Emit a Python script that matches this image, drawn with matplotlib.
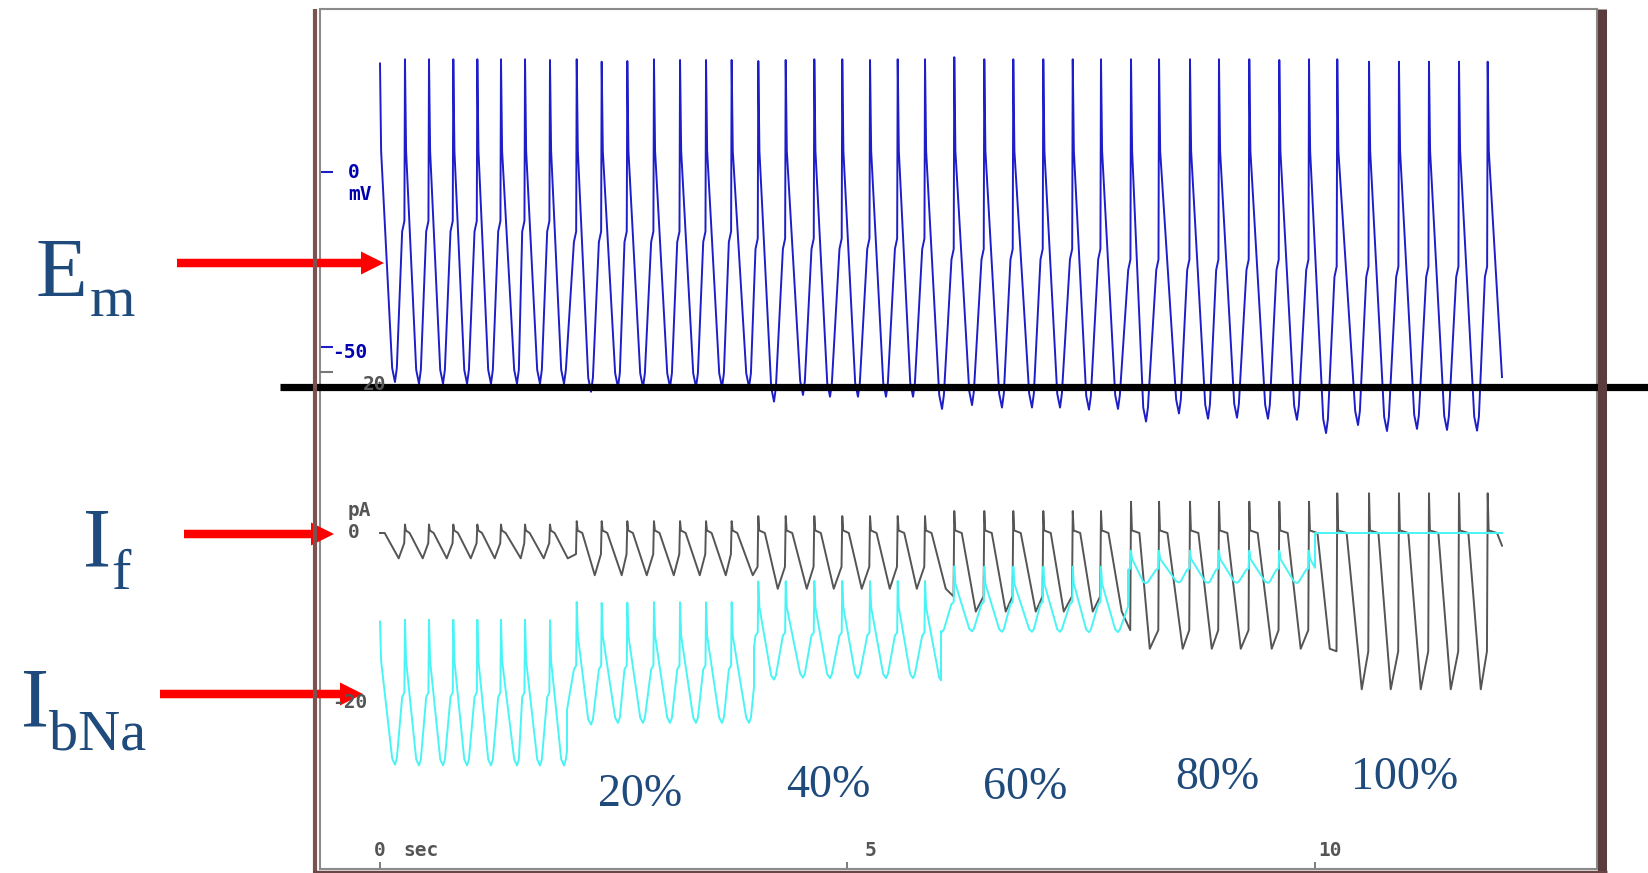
import numpy as np
import matplotlib.pyplot as plt
from matplotlib.patches import FancyArrow
from matplotlib.lines import Line2D

W, H = 1649, 873

# peak (upstroke) time of every beat, s
beat_t = [0.0, 0.267, 0.524, 0.784, 1.041, 1.294, 1.551, 1.818,
          2.104, 2.371, 2.645, 2.930, 3.209, 3.487, 3.761,
          4.046, 4.339, 4.645, 4.944, 5.241, 5.537, 5.829,
          6.142, 6.463, 6.773, 7.094, 7.409, 7.711,
          8.032, 8.332, 8.663, 8.973, 9.297, 9.618, 9.936,
          10.238, 10.578, 10.898, 11.219, 11.540, 11.847]
em_peak = [31.0, 32.2, 32.2, 32.2, 32.2, 32.2, 32.2, 32.0, 32.2, 31.5, 31.7,
           32.2, 32.0, 32.0, 32.0, 31.7, 32.0, 32.2, 32.2, 32.0, 32.2, 32.2,
           32.8, 32.2, 32.2, 32.2, 32.2, 32.2, 32.2, 32.2, 32.2, 32.2, 32.2,
           32.0, 32.2, 32.2, 31.5, 31.5, 31.5, 31.5, 31.5]
# minimum after each beat
em_trough_t = [0.160, 0.417, 0.674, 0.931, 1.187, 1.465, 1.711, 1.968,
               2.257, 2.545, 2.813, 3.102, 3.380, 3.658, 3.947,
               4.214, 4.524, 4.813, 5.112, 5.412, 5.701, 6.011,
               6.332, 6.652, 6.973, 7.273, 7.583, 7.893,
               8.193, 8.545, 8.856, 9.166, 9.497, 9.807, 10.118,
               10.460, 10.770, 11.091, 11.412, 11.733]
em_trough = [-60.0, -60.5, -60.5, -60.5, -60.5, -60.5, -60.5, -60.5,
             -62.8, -61.5, -61.5, -61.5, -61.5, -61.5, -61.5,
             -65.6, -63.7, -64.2, -64.2, -64.2, -64.2, -67.7,
             -66.6, -67.3, -67.3, -67.3, -67.9, -67.7,
             -71.3, -69.0, -70.5, -70.2, -70.5, -70.8, -74.6,
             -72.3, -74.0, -73.4, -73.7, -73.9]
t_end, em_end = 12.0, -58.6

# IbNa block steps every 2 s
seg_edges = [0, 2, 4, 6, 8, 10, 12]
em_foot = [-17, -20, -22, -25, -28, -30]
ibna_hi = [-10.3, -8.2, -5.7, -4.0, -2.1, 0.0]
ibna_lo = [-27.5, -22.5, -17.2, -11.7, -5.9, 0.0]
if_spike = [1.0, 1.4, 2.0, 2.6, 3.7, 4.7]
if_min = [-3.0, -5.0, -6.6, -9.3, -13.7, -18.5]
if_pre = [-1.2, -2.5, -4.0, -7.5, -11.5, -14.0]
if_plateau = [0.05, 0.06, 0.07, 0.08, 0.09, 0.10]
block_labels = ['20%', '40%', '60%', '80%', '100%']


def seg_of(t):
    return min(int(np.searchsorted(seg_edges, t, side='right')) - 1, 5)


# membrane potential keypoints
em_t, em_v = [], []
for i, t in enumerate(beat_t):
    s = seg_of(t)
    if i > 0:
        em_t += [t - 0.03, t - 0.006]
        em_v += [em_foot[s], em_foot[s] + 3]
    em_t += [t, t + 0.012]
    em_v += [em_peak[i], 6.0]
    if i < len(em_trough):
        tt = em_trough_t[i]
        em_t += [tt - 0.03, tt, tt + 0.02]
        em_v += [em_trough[i] + 4, em_trough[i], em_trough[i] + 4]
em_t.append(t_end)
em_v.append(em_end)
em_t = np.array(em_t)
em_v = np.array(em_v)

# IbNa follows Em, scaled per block step
ib_t, ib_v = [], []
for s in range(6):
    a, b = seg_edges[s], seg_edges[s + 1]
    m = (em_t > a) & (em_t < b)
    tt = np.concatenate([[a], em_t[m], [b]])
    vv = np.concatenate([[np.interp(a, em_t, em_v)], em_v[m], [np.interp(b, em_t, em_v)]])
    troughs = [v for tt_, v in zip(em_trough_t, em_trough) if a <= tt_ < b]
    lo_ref = np.mean(troughs)
    frac = (32.0 - vv) / (32.0 - lo_ref)
    ib_t += list(tt)
    ib_v += list(ibna_hi[s] + frac * (ibna_lo[s] - ibna_hi[s]))

# If keypoints
if_t, if_v = [0.0], [0.0]
for i, t in enumerate(beat_t):
    s = seg_of(t)
    if i > 0:
        if_t += [t - 0.008, t, t + 0.01]
        if_v += [if_pre[s], if_spike[s], 0.3]
    if_t.append(t + if_plateau[s])
    if_v.append(0.0)
    if i < len(em_trough_t):
        if_t.append(em_trough_t[i] + 0.04)
        if_v.append(if_min[s])
if_t.append(t_end)
if_v.append(-1.5)

fig = plt.figure(figsize=(W / 100, H / 100), dpi=100)
fig.patch.set_facecolor('white')

# frame in pixels: x 320..1597, y 9..869 ; 0 s at x=380, 93.5 px/s
fl, fr, ft, fb = 320, 1597, 9, 869
rect = [fl / W, 1 - fb / H, (fr - fl) / W, (fb - ft) / H]
xl = ((fl - 380) / 93.5, (fr - 380) / 93.5)

ax_em = fig.add_axes(rect)
ax_em.set_xlim(*xl)
ax_em.set_ylim((172 - fb) / 3.5, (172 - ft) / 3.5)
ax_em.plot(em_t, em_v, color='#1e1ec8', lw=1.4)
for sp in ax_em.spines.values():
    sp.set_color('#8a8a8a')
    sp.set_linewidth(1.5)
ax_em.set_xticks([0, 5, 10])
ax_em.set_yticks([0, -50])
ax_em.tick_params(axis='x', direction='in', length=5, width=1.2, color='#666666',
                  labelbottom=False)
ax_em.tick_params(axis='y', direction='in', length=9.5, width=1.5, color='#1e1ec8',
                  labelleft=False)

ax_i = fig.add_axes(rect)
ax_i.patch.set_visible(False)
ax_i.set_xlim(*xl)
ax_i.set_ylim((533 - fb) / 8.45, (533 - ft) / 8.45)
ax_i.plot(if_t, if_v, color='#555555', lw=1.4)
ax_i.plot(ib_t, ib_v, color='#4af4f4', lw=1.4)
for sp in ax_i.spines.values():
    sp.set_visible(False)
ax_i.set_xticks([])
ax_i.set_yticks([19])
ax_i.tick_params(axis='y', direction='in', length=9.5, width=1.5, color='#777777',
                 labelleft=False)

# bottom axis labels
mono = dict(family='DejaVu Sans Mono', fontweight='bold', fontsize=14)
for val, lab, dx, ha in [(0, '0', 0, 'center'), (5, '5', 17, 'left'), (10, '10', 3, 'left')]:
    ax_em.annotate(lab, xy=(val, 0), xycoords=('data', 'axes fraction'), xytext=(dx, 19),
                   textcoords='offset pixels', ha=ha, va='center', color='#555555', **mono)
ax_em.annotate('sec', xy=(0, 0), xycoords=('data', 'axes fraction'), xytext=(23, 19),
               textcoords='offset pixels', ha='left', va='center', color='#555555', **mono)

# overlay in pixel units for annotations
ov = fig.add_axes([0, 0, 1, 1])
ov.set_xlim(0, W)
ov.set_ylim(H, 0)
ov.axis('off')
ov.patch.set_visible(False)

ov.add_line(Line2D([280, W], [386.5, 386.5], color='black', lw=5.2, solid_capstyle='butt'))
ov.add_line(Line2D([315, 315], [9, H], color='#7a5252', lw=3, solid_capstyle='butt'))
ov.add_line(Line2D([1602.5, 1602.5], [9, H], color='#5a3c3c', lw=6.5, solid_capstyle='butt'))
ov.add_line(Line2D([313, 1607], [871.5, 871.5], color='#6a4545', lw=2.5, solid_capstyle='butt'))

blue = '#0000b0'
grey = '#555555'
ov.text(348, 172, '0', color=blue, ha='left', va='center', **mono)
ov.text(348, 195, 'mV', color=blue, ha='left', va='center', **mono)
ov.text(332, 353, '-50', color=blue, ha='left', va='center', **mono)
ov.text(348, 510, 'pA', color=grey, ha='left', va='center', **mono)
ov.text(348, 533, '0', color=grey, ha='left', va='center', **mono)
ov.text(332, 702, '-20', color=grey, ha='left', va='center', **mono)
ov.text(363, 384, '20', color=grey, ha='left', va='center', **mono)

red = '#ff0000'
for x0, x1, y in [(177, 384, 263), (184, 334, 534), (160, 363, 694)]:
    ov.add_patch(FancyArrow(x0, y, x1 - x0, 0, width=8.5, head_width=23, head_length=23,
                            length_includes_head=True, color=red, lw=0))

navy = '#1f4a7c'
serif = 'Liberation Serif'
ov.text(36, 297, 'E', color=navy, family=serif, fontsize=61, va='baseline')
ov.text(90, 316, 'm', color=navy, family=serif, fontsize=42, va='baseline')
ov.text(83, 566, 'I', color=navy, family=serif, fontsize=61, va='baseline')
ov.text(111, 589, 'f', color=navy, family=serif, fontsize=42, va='baseline')
ov.text(21, 726, 'I', color=navy, family=serif, fontsize=61, va='baseline')
ov.text(49, 749, 'bNa', color=navy, family=serif, fontsize=42, va='baseline')

for lab, (x, y) in zip(block_labels, [(640, 795), (828, 786), (1025, 788), (1217, 778), (1405, 778)]):
    ov.text(x, y, lab, color=navy, family=serif, fontsize=33, ha='center', va='center')

fig.savefig('out.png', dpi=100, facecolor='white')
